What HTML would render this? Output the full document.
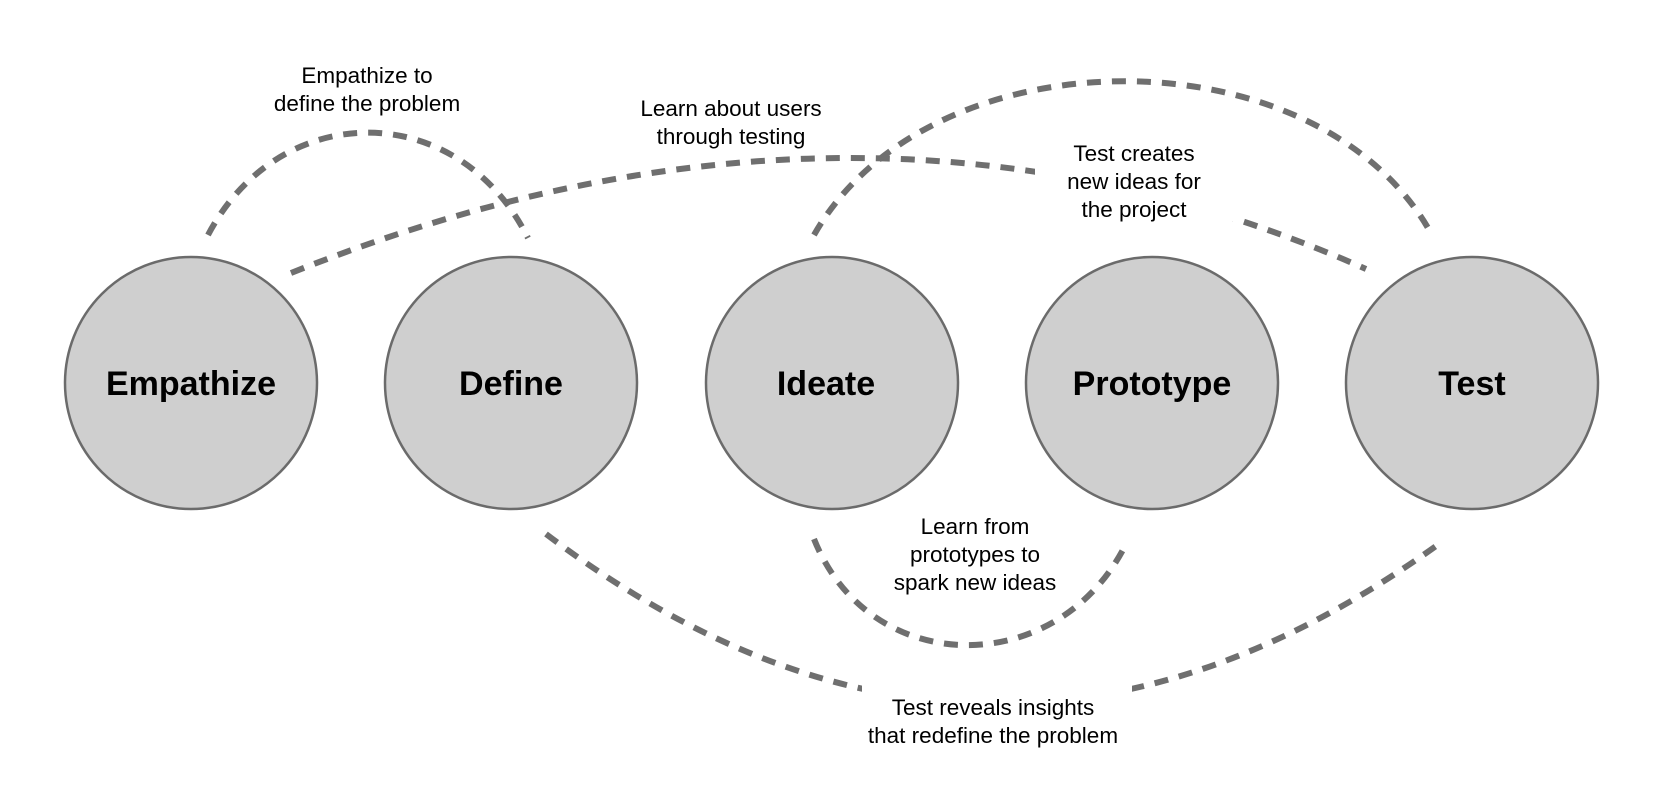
<!DOCTYPE html>
<html><head><meta charset="utf-8"><style>
html,body{margin:0;padding:0;background:#fff;}
svg{display:block;}
text{font-family:"Liberation Sans",Arial,sans-serif;}
</style></head><body>
<svg width="1657" height="809" viewBox="0 0 1657 809" xmlns="http://www.w3.org/2000/svg">
<g fill="none" stroke="#6f6f6f" stroke-width="6" stroke-dasharray="14 11">
<path d="M208 235 C280 98 458 98 528 238"/>
<path d="M291 273 Q861 45 1366 269"/>
<path d="M814 235 C930 30 1320 30 1432 235"/>
<path d="M546 534 Q990 870 1443 541"/>
<path d="M814 539 C870 680 1060 680 1127 542"/>
</g>
<rect x="1035" y="136" width="200" height="85" fill="#fff"/>
<rect x="862" y="676" width="270" height="70" fill="#fff"/>
<g fill="#cfcfcf" stroke="#6b6b6b" stroke-width="2.5">
<circle cx="191" cy="383" r="126"/>
<circle cx="511" cy="383" r="126"/>
<circle cx="832" cy="383" r="126"/>
<circle cx="1152" cy="383" r="126"/>
<circle cx="1472" cy="383" r="126"/>
</g>
<g font-size="34" font-weight="bold" text-anchor="middle" fill="#000">
<text x="191" y="395">Empathize</text>
<text x="511" y="395">Define</text>
<text x="826" y="395">Ideate</text>
<text x="1152" y="395">Prototype</text>
<text x="1472" y="395">Test</text>
</g>
<g font-size="22.5" text-anchor="middle" fill="#000">
<text x="367" y="83">Empathize to</text>
<text x="367" y="111">define the problem</text>
<text x="731" y="116">Learn about users</text>
<text x="731" y="144">through testing</text>
<text x="1134" y="161">Test creates</text>
<text x="1134" y="189">new ideas for</text>
<text x="1134" y="217">the project</text>
<text x="975" y="534">Learn from</text>
<text x="975" y="562">prototypes to</text>
<text x="975" y="590">spark new ideas</text>
<text x="993" y="715">Test reveals insights</text>
<text x="993" y="743">that redefine the problem</text>
</g>
</svg>
</body></html>
